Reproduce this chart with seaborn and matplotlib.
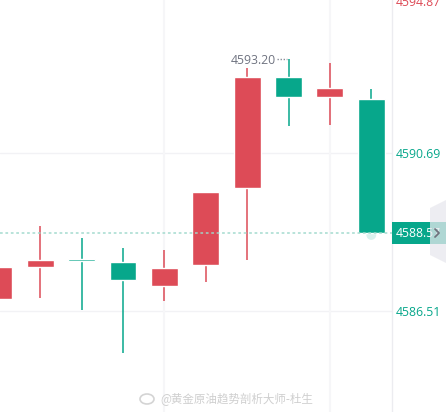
import matplotlib
matplotlib.use("Agg")
import matplotlib.pyplot as plt
import seaborn as sns
import pandas as pd
from matplotlib.patches import Polygon, Ellipse

# candle data (red = rising, green = falling)
opens  = [4586.82, 4587.67, 4587.88, 4587.80, 4587.17, 4587.72, 4589.77, 4592.72, 4592.19, 4592.13]
closes = [4587.67, 4587.86, 4587.83, 4587.33, 4587.65, 4589.66, 4592.72, 4592.19, 4592.42, 4588.57]
highs  = [4587.90, 4588.76, 4588.44, 4588.18, 4588.12, 4589.66, 4592.96, 4593.20, 4593.09, 4592.40]
lows   = [4586.60, 4586.85, 4586.53, 4585.39, 4586.77, 4587.27, 4587.86, 4591.42, 4591.44, 4588.57]
tick_values = [4586.51, 4590.69, 4594.87]
last_price = 4588.57
high_mark = 4593.20
watermark = "@黄金原油趋势剖析大师-杜生"

RED = "#dd4b57"
GREEN = "#07a78b"

df = pd.DataFrame({"open": opens, "close": closes, "high": highs, "low": lows})
df["x"] = range(len(df))
df["up"] = df["close"] >= df["open"]

sns.set_style("white")
plt.rcParams["font.family"] = ["Open Sans", "DejaVu Sans"]

fig = plt.figure(figsize=(4.46, 4.12), dpi=100)
ax = fig.add_axes([0, 0, 392 / 446, 1])

# grid
for v in tick_values:
    ax.axhline(v, color="#f2f2f5", lw=1, zorder=0)
for v in [4, 8]:
    ax.axvline(v, color="#f6f6f8", lw=1.5, zorder=0)

colors = [RED if u else GREEN for u in df["up"]]
ax.vlines(df["x"], df["low"], df["high"], colors=colors, lw=1.1, zorder=2)
bottoms = df[["open", "close"]].min(axis=1)
heights = (df["close"] - df["open"]).abs().clip(lower=0.055)
ax.bar(df["x"], heights, bottom=bottoms, width=0.65, color=colors, zorder=3)

# last price dotted line + glow
ax.axhline(last_price, color="#9fd9cc", lw=1.3, ls=(0, (1.5, 1.5)), alpha=0.8, zorder=4)
sns.scatterplot(x=[df["x"].iloc[-1]], y=[last_price - 0.05], s=50, color=GREEN, alpha=0.15,
                edgecolor="none", ax=ax, zorder=2, legend=False)

# high annotation
hi_idx = int(df["high"].idxmax())
ax.plot([hi_idx - 0.27, hi_idx - 0.03], [high_mark, high_mark], color="#8a8e99",
        lw=1, ls=(0, (1, 1.2)), zorder=4)
ax.annotate(f"{high_mark:.2f}", xy=(hi_idx, high_mark), xytext=(-9, -1),
            textcoords="offset points", ha="right", va="center",
            fontsize=8.8, color="#6f7380")

ax.set_xlim(0.027, 9.5)
ax.set_ylim(4583.82, 4594.76)
ax.yaxis.tick_right()
ax.set_yticks(tick_values[:2])
ax.set_yticklabels([f"{v:.2f}" for v in tick_values[:2]], color=GREEN, fontsize=8.8)
ax.tick_params(axis="y", length=0, pad=3)
ax.set_xticks([])
for s in ["left", "top", "bottom"]:
    ax.spines[s].set_visible(False)
ax.spines["right"].set_color("#ececf0")
ax.spines["right"].set_linewidth(1)

# top label, partially cut off
ax.annotate(f"{tick_values[2]:.2f}", xy=(1, tick_values[2]), xycoords=("axes fraction", "data"),
            xytext=(3, -5), textcoords="offset points", ha="left", va="center",
            fontsize=8.8, color=RED, annotation_clip=False)

# current price label
ax.annotate(f"{last_price:.2f}", xy=(1, last_price), xycoords=("axes fraction", "data"),
            xytext=(3, 0), textcoords="offset points", ha="left", va="center",
            fontsize=8.8, color="white", annotation_clip=False,
            bbox=dict(boxstyle="square,pad=0.35", fc=GREEN, ec="none"))

# overlay for decorations in pixel space
ov = fig.add_axes([0, 0, 1, 1], facecolor="none")
ov.set_xlim(0, 446)
ov.set_ylim(412, 0)
ov.axis("off")
ov.add_patch(Polygon([(446, 200), (430, 208), (430, 255), (446, 263)], closed=True,
                     fc="#e8e8ee", ec="none", alpha=0.75))
ov.plot([435, 439, 435], [229, 233, 237], color="#6f727d", lw=1.3)

ov.add_patch(Ellipse((147, 399), 14, 10, fc="none", ec="#d4d4d4", lw=1.2))
ov.text(160, 399, watermark, color="#cfcfcf", fontsize=8.3, ha="left", va="center",
        family=["Noto Sans CJK SC", "DejaVu Sans"])

fig.savefig("out.png", dpi=100)
